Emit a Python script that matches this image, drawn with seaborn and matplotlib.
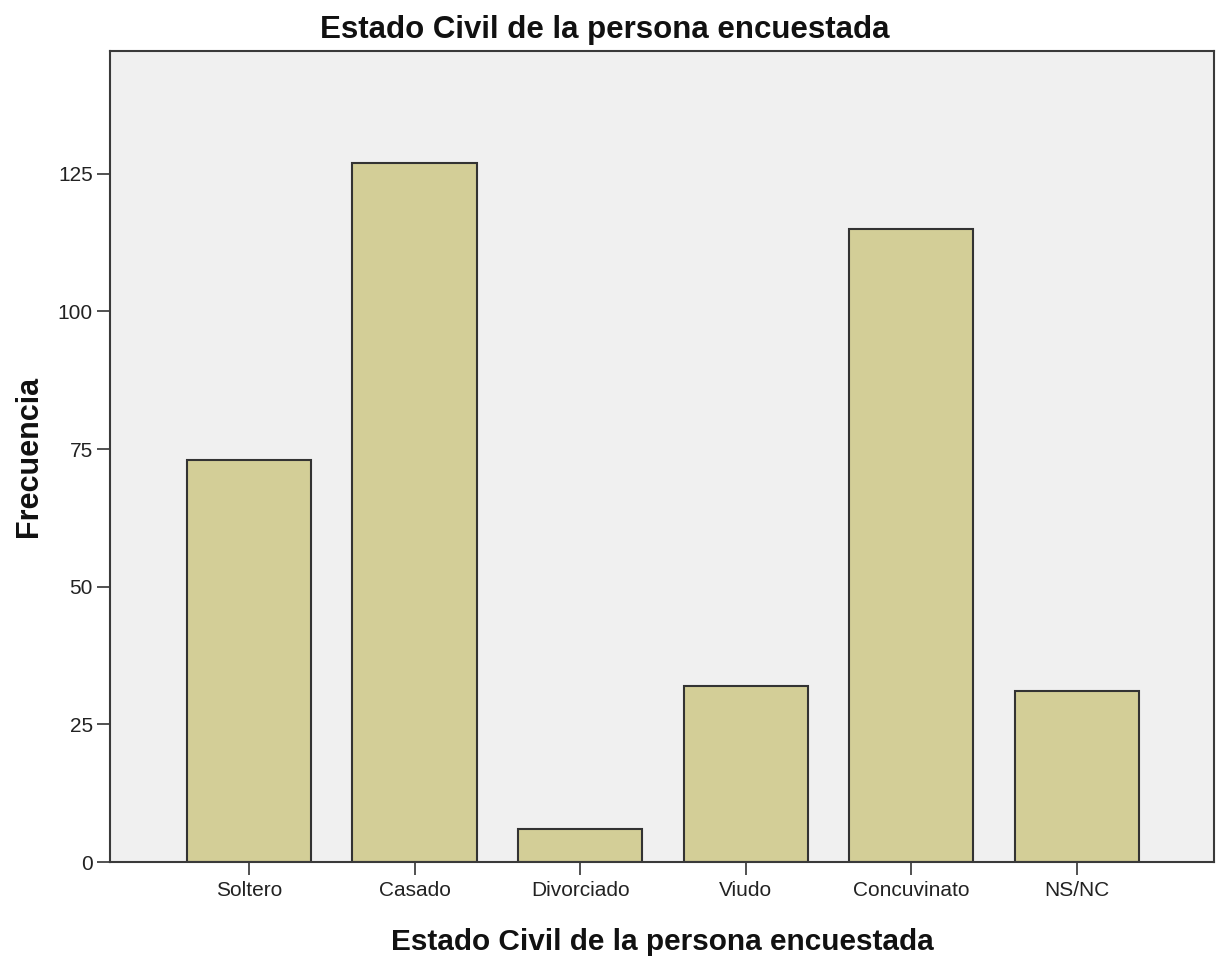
import seaborn as sns
import matplotlib.pyplot as plt
import pandas as pd

# estado civil counts
categorias = ["Soltero", "Casado", "Divorciado", "Viudo", "Concuvinato", "NS/NC"]
frecuencias = [73, 127, 6, 32, 115, 31]
yticks = [0, 25, 50, 75, 100, 125]

df = pd.DataFrame({"estado": categorias, "frecuencia": frecuencias})

sns.set_style("white")
plt.rcParams["font.family"] = ["Liberation Sans", "DejaVu Sans"]

fig = plt.figure(figsize=(12.19, 9.56), dpi=100)
ax = fig.add_axes([110 / 1219, 94 / 956, 1104 / 1219, 811 / 956])
ax.set_facecolor("#f0f0f0")

sns.barplot(x="estado", y="frecuencia", data=df, color="#d3ce97", saturation=1,
            width=0.75, edgecolor="#333333", linewidth=1.5, ax=ax)

ax.set_xlim(-0.84, 5.83)
ax.set_ylim(0, 147.3)
ax.set_yticks(yticks)
ax.set_yticklabels([str(t) for t in yticks])

for s in ax.spines.values():
    s.set_color("#3a3a3a")
    s.set_linewidth(1.5)

ax.tick_params(axis="both", direction="out", length=9.5, width=1.2, color="#333333",
               labelsize=15, labelcolor="#222222", left=True, bottom=True)
ax.tick_params(axis="y", pad=3)
ax.tick_params(axis="x", pad=4)

# title is centred on the whole figure, not the axes
fig.text(605 / 1219, 1 - 30 / 956, "Estado Civil de la persona encuestada",
         fontsize=22.5, fontweight="bold", ha="center", va="center", color="#111111")
ax.set_xlabel("Estado Civil de la persona encuestada", fontsize=21.4, fontweight="bold",
              labelpad=20, color="#111111")
ax.set_ylabel("Frecuencia", fontsize=22, fontweight="bold", labelpad=10, color="#111111")

fig.savefig("out.png", dpi=100)
